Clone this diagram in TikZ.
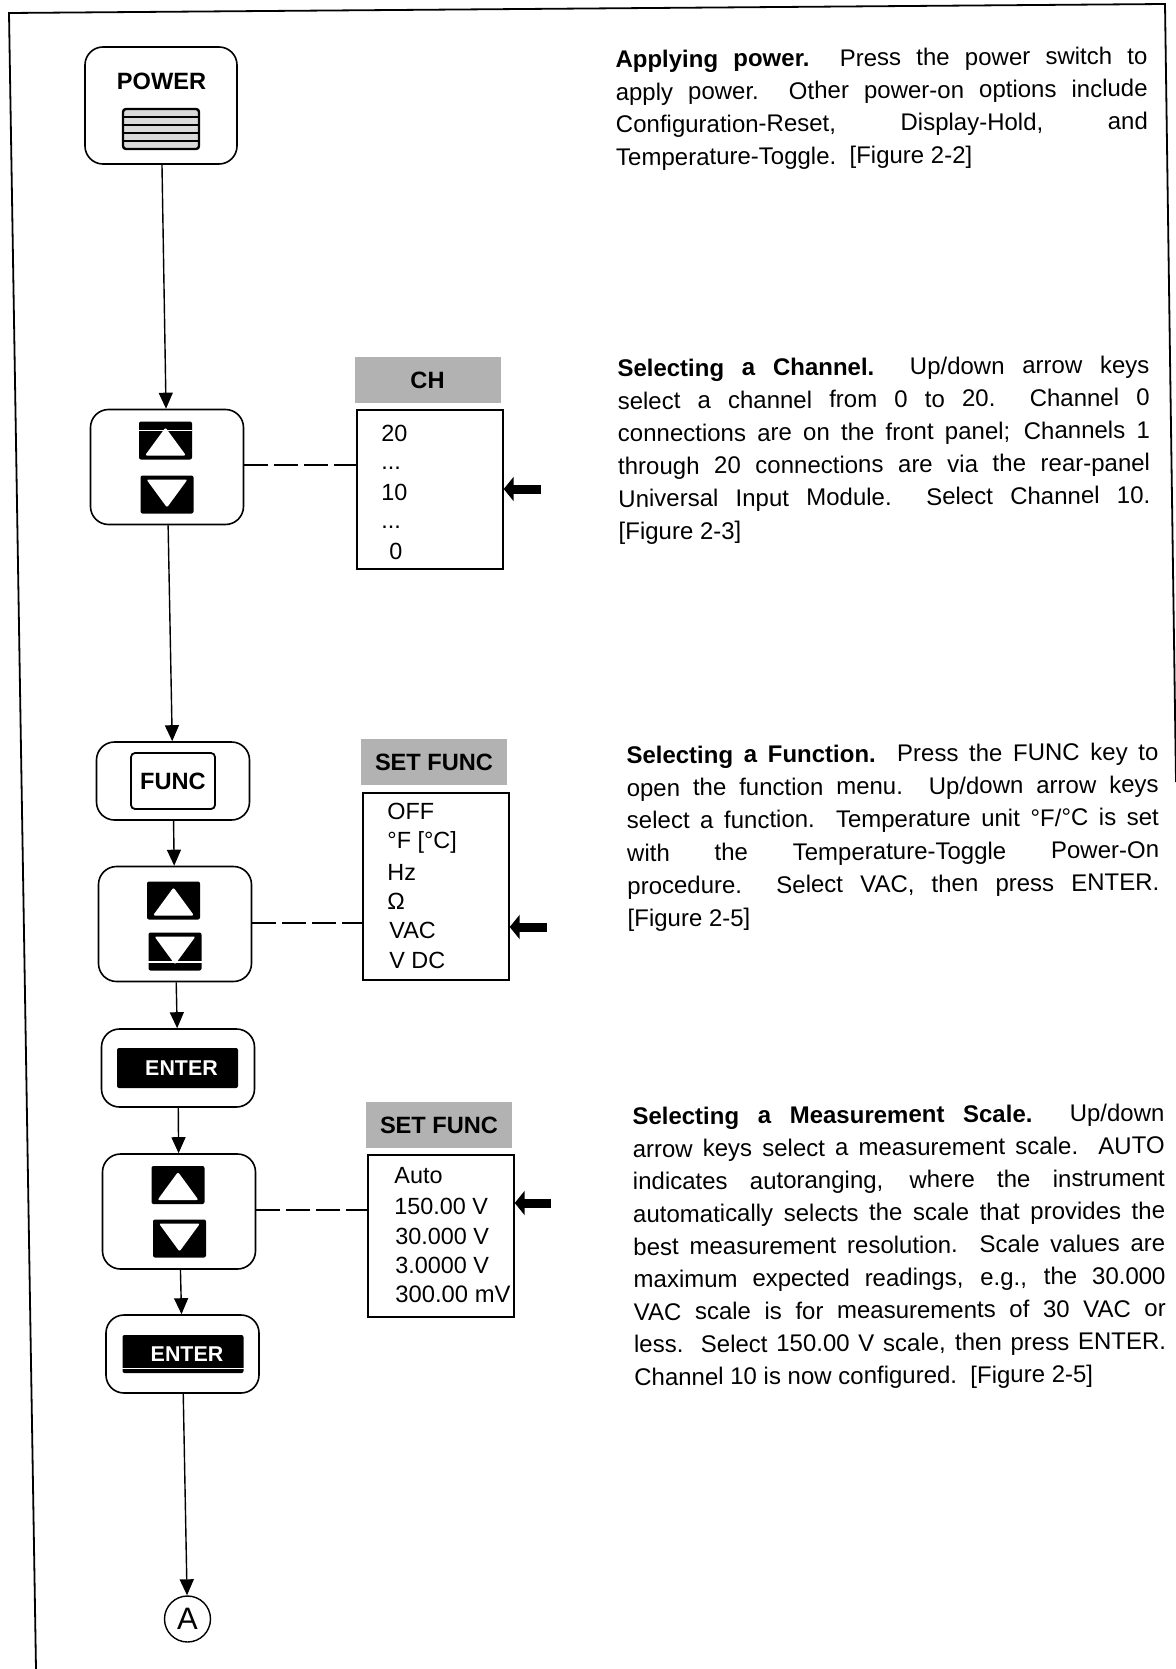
\documentclass[tikz,border=0pt]{standalone}
\usepackage{fontspec}
\setmainfont{Liberation Sans}
\usetikzlibrary{arrows.meta}
\begin{document}
\begin{tikzpicture}
        [x=0.5pt, y=-0.5pt,
        panel/.style={draw, line width=0.8pt, rounded corners=9pt, inner sep=0pt},
        udpanel/.style={panel, minimum width=76.5pt, minimum height=57.5pt},
        enterpanel/.style={panel, minimum width=76.5pt, minimum height=39pt},
        keyup/.style={fill=black, rounded corners=1pt, inner sep=0pt, minimum width=26.5pt, minimum height=19pt,
                path picture={\fill[white] ([xshift=3pt,yshift=2pt]path picture bounding box.south west) -- ([yshift=-3pt]path picture bounding box.north) -- ([xshift=-3pt,yshift=2pt]path picture bounding box.south east) -- cycle;}},
        keydown/.style={fill=black, rounded corners=1pt, inner sep=0pt, minimum width=26.5pt, minimum height=19pt,
                path picture={\fill[white] ([xshift=3pt,yshift=-2pt]path picture bounding box.north west) -- ([yshift=3pt]path picture bounding box.south) -- ([xshift=-3pt,yshift=-2pt]path picture bounding box.north east) -- cycle;}},
        enterkey/.style={fill=black, rounded corners=1pt, text=white, inner sep=0pt, minimum width=60.5pt, minimum height=20pt, font=\fontsize{10.7}{12}\selectfont\bfseries},
        label/.style={inner sep=0pt, font=\fontsize{11.8}{14}\selectfont\bfseries},
        header/.style={fill=black!30, inner sep=0pt, minimum width=73pt, minimum height=23pt, font=\fontsize{11.8}{14}\selectfont\bfseries},
        menu/.style={draw, line width=0.7pt, inner sep=0pt, minimum width=73pt},
        item/.style={anchor=west, inner sep=0pt, font=\fontsize{11.7}{14}\selectfont},
        flow/.style={line width=0.7pt, -{Triangle[length=8pt,width=7pt]}},
        link/.style={line width=0.8pt, dash pattern=on 12pt off 3pt},
        pointer/.style={line width=4.5pt, -{Triangle[length=5pt,width=12pt]}},
        para/.style={anchor=north west, inner sep=0pt, text width=266pt, align=justify, rotate=0.4, font=\fontsize{12}{16.3}\selectfont}]

        % outer frame
        \coordinate (tl) at (9,13);
        \coordinate (tr) at (1165,4);
        \coordinate (br) at (1176,782);
        \coordinate (bl) at (36,1669);
        \useasboundingbox (0,0) rectangle (1176,1669);
        \draw[line width=0.9pt] (bl) -- (tl) -- (tr) -- (br);

        % panels down the left side
        \node[panel, minimum width=76pt, minimum height=58.5pt] (power) at (161,105.5) {};
        \node[udpanel] (ud1) at (167,467) {};
        \node[enterpanel] (func) at (173,781) {};
        \node[udpanel] (ud2) at (175,924) {};
        \node[enterpanel] (enter1) at (178,1068) {};
        \node[udpanel] (ud3) at (179,1211.5) {};
        \node[enterpanel] (enter2) at (182.5,1354) {};
        \node[circle, draw, line width=0.7pt, inner sep=0pt, minimum size=23pt, font=\fontsize{15.5}{17}\selectfont] (a) at (187.5,1619) {A};

        % what is inside the panels
        \node[label] (powertext) at (161.5,81) {POWER};
        \node[draw, line width=1.2pt, fill=black!15, rounded corners=1.5pt, inner sep=0pt, minimum width=38pt, minimum height=20pt] (switch) at (161,129) {};
        \draw[line width=0.7pt] ([yshift=6pt]switch.west) -- ([yshift=6pt]switch.east);
        \draw[line width=0.7pt] ([yshift=2pt]switch.west) -- ([yshift=2pt]switch.east);
        \draw[line width=0.7pt] ([yshift=-2pt]switch.west) -- ([yshift=-2pt]switch.east);
        \draw[line width=0.7pt] ([yshift=-6pt]switch.west) -- ([yshift=-6pt]switch.east);
        \node[keyup] (up1) at (165.5,440.5) {};
        \node[keydown] (down1) at (167,494.5) {};
        \node[draw, line width=0.9pt, rounded corners=2pt, inner sep=0pt, minimum width=42pt, minimum height=28pt, font=\fontsize{11.8}{14}\selectfont\bfseries] (funckey) at (173,781) {FUNC};
        \node[keyup] (up2) at (173.5,900.5) {};
        \node[keydown] (down2) at (175,951.5) {};
        \node[enterkey] (enterkey1) at (177.5,1068) {\hspace{4pt}ENTER};
        \node[keyup] (up3) at (178,1185) {};
        \node[keydown] (down3) at (179.5,1238.5) {};
        \node[enterkey, minimum height=19pt] (enterkey2) at (183,1354) {\hspace{4pt}ENTER};

        % scan lines through some keys
        \draw[white, line width=0.6pt] ([yshift=-4.5pt]up1.north west) -- ([yshift=-4.5pt]up1.north east);
        \draw[white, line width=0.8pt] ([yshift=4.5pt]down2.south west) -- ([yshift=4.5pt]down2.south east);
        \draw[white, line width=0.8pt] ([yshift=2.5pt]enterkey2.south west) -- ([yshift=2.5pt]enterkey2.south east);

        % channel menu
        \node[header] (chhead) at (427.5,380) {CH};
        \node[menu, minimum height=79.5pt] (chmenu) at (430,489.5) {};
        \node[item] (ch20) at (381,433) {20};
        \node[item] (chdotsa) at (381,468) {...};
        \node[item] (ch10) at (381,492) {10};
        \node[item] (chdotsb) at (381,527) {...};
        \node[item] (ch0) at (389,551) {0};

        % function menu
        \node[header] (funchead) at (434,762) {SET FUNC};
        \node[menu, minimum height=93.5pt] (funcmenu) at (436,886.5) {};
        \node[item] (off) at (387,811) {OFF};
        \node[item] (degf) at (387,842) {°F [°C]};
        \node[item] (hz) at (387,872) {Hz};
        \node[item] (ohm) at (387,901) {Ω};
        \node[item] (vac) at (389,930) {VAC};
        \node[item] (vdc) at (389,960) {V DC};

        % scale menu
        \node[header] (scalehead) at (439,1125) {SET FUNC};
        \node[menu, minimum height=81pt] (scalemenu) at (441,1236) {};
        \node[item] (auto) at (394,1176) {Auto};
        \node[item] (s150) at (394,1206) {150.00 V};
        \node[item] (s30) at (395,1236) {30.000 V};
        \node[item] (s3) at (395,1265) {3.0000 V};
        \node[item, font=\fontsize{11.9}{14}\selectfont] (s300) at (395,1294) {300.00 mV};

        % flow arrows
        \draw[flow] (power) -- (ud1);
        \draw[flow] (ud1) -- (func);
        \draw[flow] (func) -- (ud2);
        \draw[flow] (ud2) -- (enter1);
        \draw[flow] (enter1) -- (ud3);
        \draw[flow] (ud3) -- (enter2);
        \draw[flow] (enter2) -- (a);

        % dashed links from the keys to the menus
        \draw[link] (ud1.east |- 0,465) -- (chmenu.west |- 0,465);
        \draw[link] (ud2.east |- 0,923) -- (funcmenu.west |- 0,923);
        \draw[link] (ud3.east |- 0,1210) -- (scalemenu.west |- 0,1210);

        % block arrows at the selected entries
        \coordinate (tailch) at (541,489);
        \coordinate (tailfunc) at (547,927);
        \coordinate (tailscale) at (551,1203);
        \draw[pointer] (tailch) -- (tailch -| chmenu.east);
        \draw[pointer] (tailfunc) -- (tailfunc -| funcmenu.east);
        \draw[pointer] (tailscale) -- (tailscale -| scalemenu.east);

        % text on the right
        \node[para] (applying) at (615,50) {\textbf{Applying power.}\ \ Press the power switch to\linebreak apply power.\ \ Other power-on options include\linebreak Configuration-Reset, Display-Hold, and\linebreak Temperature-Toggle.\ \ [Figure 2-2]};
        \node[para] (channel) at (617,359) {\textbf{Selecting a Channel.}\ \ Up/down arrow keys\linebreak select a channel from 0 to 20.\ \ Channel 0\linebreak connections are on the front panel; Channels 1\linebreak through 20 connections are via the rear-panel\linebreak Universal Input Module.\ \ Select Channel 10.\linebreak {[}Figure 2-3]};
        \node[para] (function) at (626,746) {\textbf{Selecting a Function.}\ \ Press the FUNC key to\linebreak open the function menu.\ \ Up/down arrow keys\linebreak select a function.\ \ Temperature unit °F/°C is set\linebreak with the Temperature-Toggle Power-On\linebreak procedure.\ \ Select VAC, then press ENTER.\linebreak {[}Figure 2-5]};
        \node[para] (scale) at (632,1107) {\textbf{Selecting a Measurement Scale.}\ \ Up/down\linebreak arrow keys select a measurement scale.\ \ AUTO\linebreak indicates autoranging, where the instrument\linebreak automatically selects the scale that provides the\linebreak best measurement resolution.\ \ Scale values are\linebreak maximum expected readings, e.g., the 30.000\linebreak VAC scale is for measurements of 30 VAC or\linebreak less.\ \ Select 150.00 V scale, then press ENTER.\linebreak Channel 10 is now configured.\ \ [Figure 2-5]};

        \end{tikzpicture}
\end{document}
